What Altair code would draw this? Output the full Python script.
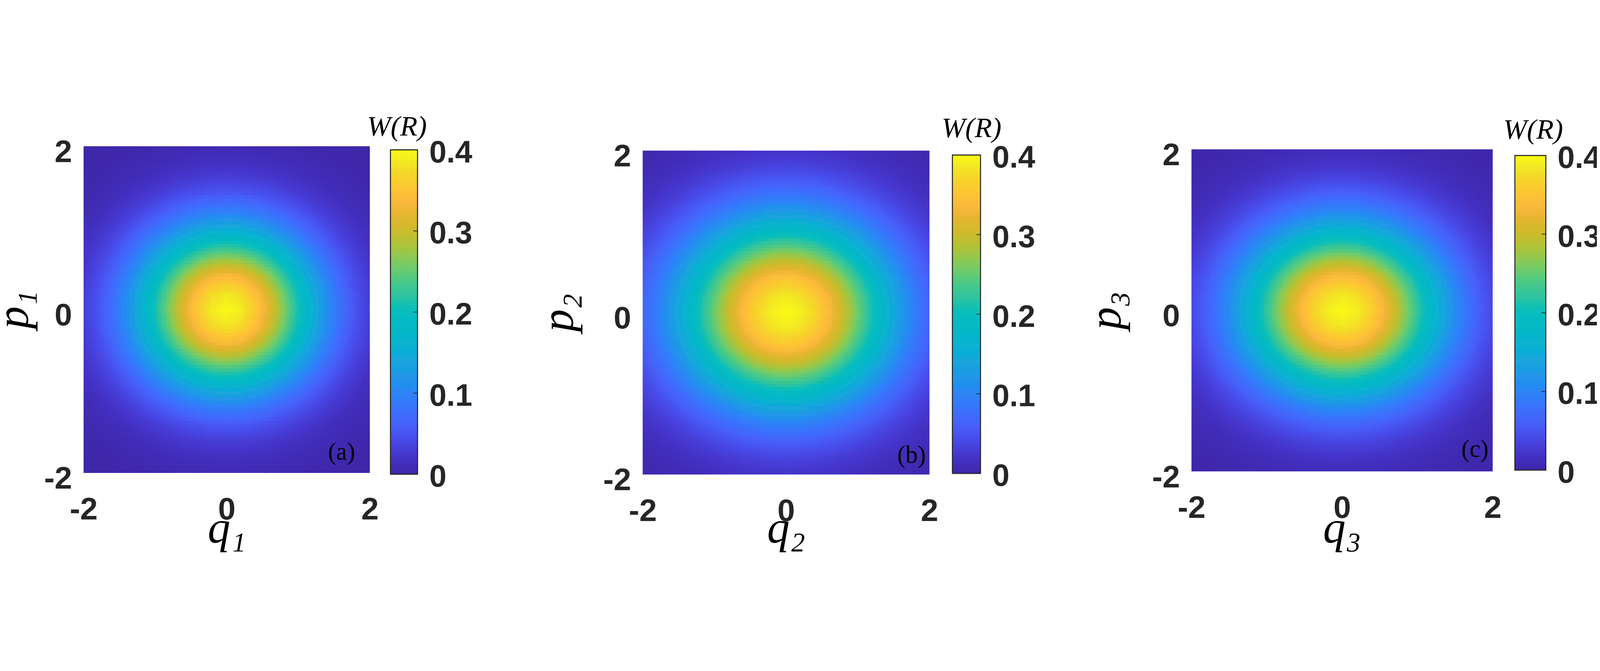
import altair as alt
import numpy as np
import pandas as pd

alt.data_transformers.disable_max_rows()

r_samples = [0.0, 0.2, 0.4, 0.6, 0.8, 1.0, 1.2, 1.4, 1.6, 1.8, 2.0]

# W along the q axis (p = 0) and along the p axis (q = 0)
wq_a = [0.400, 0.390, 0.360, 0.317, 0.264, 0.209, 0.157, 0.112, 0.076, 0.049, 0.030]
wp_a = [0.400, 0.384, 0.341, 0.279, 0.211, 0.147, 0.095, 0.056, 0.031, 0.016, 0.007]
wq_b = [0.400, 0.393, 0.372, 0.340, 0.300, 0.255, 0.209, 0.165, 0.126, 0.093, 0.066]
wp_b = [0.400, 0.388, 0.355, 0.306, 0.249, 0.190, 0.137, 0.093, 0.060, 0.036, 0.020]
wq_c = [0.400, 0.391, 0.365, 0.325, 0.277, 0.225, 0.175, 0.130, 0.092, 0.062, 0.040]
wp_c = [0.400, 0.386, 0.347, 0.290, 0.226, 0.164, 0.111, 0.070, 0.041, 0.022, 0.011]
w_peak = 0.400

# colour bar (parula-like)
cmap_values = [0.000, 0.020, 0.040, 0.060, 0.080, 0.100, 0.120, 0.140, 0.160, 0.180,
               0.200, 0.220, 0.240, 0.260, 0.280, 0.300, 0.320, 0.335, 0.350, 0.370,
               0.385, 0.400]
cmap_colors = ["#3E26A8", "#4433C8", "#4848E6", "#4760F8", "#3B72FC", "#2F84F6",
               "#2596E8", "#1DA5DC", "#10B2D0", "#06B8C6", "#0BBDBE", "#2FC3A0",
               "#4DC985", "#7BCB62", "#A8C43E", "#CCBB2C", "#E6B530", "#FAB93C",
               "#FDC335", "#F5D52A", "#F3E723", "#F9FB14"]
cbar_min, cbar_max = 0.0, 0.4

axis_ticks = [-2, 0, 2]
cbar_ticks = [0, 0.1, 0.2, 0.3, 0.4]
cbar_inner_ticks = [0.1, 0.2, 0.3]
tags = ["(a)", "(b)", "(c)"]
q_titles = ["q\u2081", "q\u2082", "q\u2083"]
p_titles = ["p\u2081", "p\u2082", "p\u2083"]
cbar_title = "W(R)"
tag_q = [1.795, 1.95, 1.945]
tag_p = [-1.839, -1.854, -1.82]

# page layout in pixels of the drawing area (page minus its 8px margin)
W_TOTAL, H_TOTAL = 6180, 1702
layout = [
    dict(x0=312, x1=1422, y0=117, y1=1384, cx0=1502, cx1=1607, cy0=131, cy1=1389,
         wrx=1527, wry=76, ytx=-217, xty=270),
    dict(x0=2480, x1=3592, y0=134, y1=1390, cx0=3681, cx1=3790, cy0=151, cy1=1386,
         wrx=3755, wry=81, ytx=-272, xty=264),
    dict(x0=4608, x1=5776, y0=129, y1=1378, cx0=5862, cx1=5982, cy0=153, cy1=1373,
         wrx=5933, wry=87, ytx=-276, xty=276),
]
profiles = [(wq_a, wp_a), (wq_b, wp_b), (wq_c, wp_c)]

n_cells = 100
edges = np.linspace(-2, 2, n_cells + 1)
step = edges[1] - edges[0]
centers = edges[:-1] + step / 2
overlap = 0.006

band_step = 0.002
band_lo = np.round(np.arange(cbar_min, cbar_max, band_step), 4)
bands_df = pd.DataFrame({
    "v0": band_lo,
    "v1": np.minimum(band_lo + band_step * 1.3, cbar_max).round(5),
    "vc": (band_lo + band_step / 2).round(5),
})

TICK_FONT = "Liberation Sans"
MATH_FONT = "Liberation Serif"
INK = "#262626"
label_expr = "(datum.value < 0 ? '-' : '') + format(abs(datum.value), 'd')"
cs = alt.Scale(domain=cmap_values, range=cmap_colors, clamp=True)


def panel_layers(i):
    L = layout[i]
    wq, wp = profiles[i]
    wq_c_ = np.interp(np.abs(centers), r_samples, wq)
    wp_c_ = np.interp(np.abs(centers), r_samples, wp)
    Q0, P0 = np.meshgrid(edges[:-1], edges[:-1])
    WQ, WP = np.meshgrid(wq_c_, wp_c_)
    W = WQ * WP / w_peak
    df = pd.DataFrame({
        "q0": Q0.ravel().round(4),
        "p0": P0.ravel().round(4),
        "W": W.ravel().round(5),
    })

    xs = alt.Scale(domain=[-2, 2], range=[L["x0"], L["x1"]], nice=False, zero=False)
    ys = alt.Scale(domain=[-2, 2], range=[L["y1"], L["y0"]], nice=False, zero=False)
    cbs = alt.Scale(domain=[cbar_min, cbar_max], range=[L["cy1"], L["cy0"]], nice=False, zero=False)

    xaxis = alt.Axis(
        orient="bottom", offset=L["y1"] - H_TOTAL,
        values=axis_ticks, labelExpr=label_expr, title=q_titles[i],
        domain=False, ticks=False, tickSize=0, grid=False,
        labelFont=TICK_FONT, labelFontSize=122, labelFontWeight="bold",
        labelColor=INK, labelPadding=84, labelFlush=False, labelOverlap=False,
        titleFont=MATH_FONT, titleFontStyle="italic", titleFontWeight="normal",
        titleFontSize=175, titleColor="black", titleBaseline="alphabetic",
        titleY=L["xty"],
    )
    yaxis = alt.Axis(
        orient="left", offset=-L["x0"],
        values=axis_ticks, labelExpr=label_expr, title=p_titles[i],
        domain=False, ticks=False, tickSize=0, grid=False,
        labelFont=TICK_FONT, labelFontSize=122, labelFontWeight="bold",
        labelColor=INK, labelPadding=45, labelOffset=24, labelFlush=False,
        labelOverlap=False,
        titleFont=MATH_FONT, titleFontStyle="italic", titleFontWeight="normal",
        titleFontSize=175, titleColor="black", titleBaseline="alphabetic",
        titleX=L["ytx"],
    )
    cbaxis = alt.Axis(
        orient="right", offset=L["cx1"] - W_TOTAL,
        values=cbar_ticks, format=".1~f", title=None,
        domain=False, ticks=False, tickSize=0, grid=False,
        labelFont=TICK_FONT, labelFontSize=120, labelFontWeight="bold",
        labelColor=INK, labelPadding=45, labelOffset=12, labelFlush=False,
        labelOverlap=False,
    )

    heat = alt.Chart(df).transform_calculate(
        q1=f"min(datum.q0 + {step + overlap}, 2)",
        p1=f"min(datum.p0 + {step + overlap}, 2)",
    ).mark_rect().encode(
        x=alt.X("q0:Q", scale=xs, axis=xaxis),
        x2="q1:Q",
        y=alt.Y("p0:Q", scale=ys, axis=yaxis),
        y2="p1:Q",
        color=alt.Color("W:Q", scale=cs, legend=None),
    )

    bands = alt.Chart(bands_df).mark_rect().encode(
        x=alt.value(L["cx0"]), x2=alt.value(L["cx1"]),
        y=alt.Y("v0:Q", scale=cbs, axis=cbaxis),
        y2="v1:Q",
        color=alt.Color("vc:Q", scale=cs, legend=None),
    )
    outline = alt.Chart(pd.DataFrame({"lo": [cbar_min], "hi": [cbar_max]})).mark_rect(
        filled=False, stroke=INK, strokeWidth=4,
    ).encode(
        x=alt.value(L["cx0"]), x2=alt.value(L["cx1"]),
        y=alt.Y("lo:Q", scale=cbs, axis=None), y2="hi:Q",
    )
    cticks = alt.Chart(pd.DataFrame({"t": cbar_inner_ticks})).mark_rule(
        color=INK, strokeWidth=3,
    ).encode(
        x=alt.value(L["cx1"] - 16), x2=alt.value(L["cx1"]),
        y=alt.Y("t:Q", scale=cbs, axis=None),
    )

    wr = alt.Chart(pd.DataFrame({"t": [cbar_title]})).mark_text(
        font=MATH_FONT, fontStyle="italic", fontSize=110, align="center",
        baseline="alphabetic", color="black",
    ).encode(x=alt.value(L["wrx"]), y=alt.value(L["wry"]), text="t:N")

    tag = alt.Chart(pd.DataFrame({"q0": [tag_q[i]], "p0": [tag_p[i]], "t": [tags[i]]})).mark_text(
        font=MATH_FONT, fontSize=95, align="right", baseline="alphabetic", color="black",
    ).encode(
        x=alt.X("q0:Q", scale=xs, axis=None),
        y=alt.Y("p0:Q", scale=ys, axis=None),
        text="t:N",
    )
    return [heat, bands, outline, cticks, wr, tag]


layers = []
for i in range(3):
    layers.extend(panel_layers(i))

chart = alt.layer(*layers).resolve_scale(
    x="independent", y="independent"
).properties(
    width=W_TOTAL, height=H_TOTAL,
    autosize=alt.AutoSizeParams(type="none"),
    padding=0,
    background="white",
).configure_view(strokeWidth=0)

chart.save("out.html", embed_options={"renderer": "svg", "actions": False})
